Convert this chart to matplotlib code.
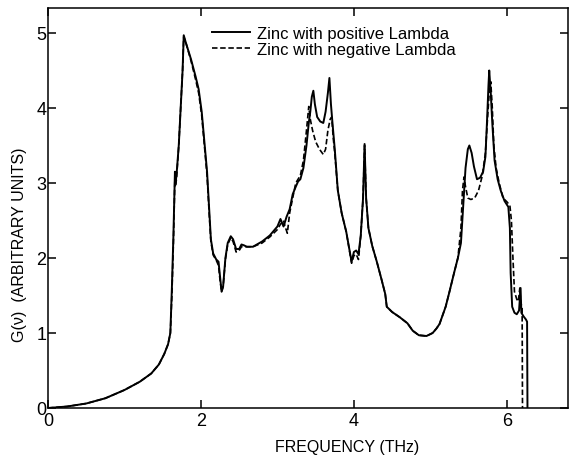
import matplotlib
matplotlib.use("Agg")
import matplotlib.pyplot as plt

plt.rcParams['font.family'] = ['Liberation Sans', 'DejaVu Sans']

# Frequency (THz) and G(nu)
freq_pos = [0, 0.25, 0.5, 0.75, 1.0, 1.2, 1.35, 1.45, 1.52, 1.57, 1.6,
            1.62, 1.64, 1.655, 1.66, 1.665, 1.68, 1.71, 1.74, 1.76, 1.775,
            1.8, 1.87, 1.93, 1.97, 2.01, 2.05, 2.08, 2.11, 2.13, 2.16, 2.2,
            2.23, 2.25, 2.27, 2.29, 2.32, 2.35, 2.39, 2.42, 2.46, 2.5, 2.53,
            2.56, 2.6, 2.68, 2.8, 2.9, 3.0, 3.04, 3.08, 3.12, 3.16, 3.2, 3.24,
            3.27, 3.3, 3.34, 3.38, 3.41, 3.43, 3.45, 3.47, 3.49, 3.52, 3.56,
            3.6, 3.63, 3.66, 3.68, 3.7, 3.72, 3.75, 3.79, 3.84, 3.9, 3.97,
            4.0, 4.03, 4.06, 4.09, 4.12, 4.14, 4.16, 4.19, 4.24, 4.3, 4.36,
            4.41, 4.43, 4.5, 4.6, 4.7, 4.77, 4.85, 4.95, 5.03, 5.08, 5.12,
            5.2, 5.25, 5.31, 5.36, 5.4, 5.43, 5.46, 5.49, 5.51, 5.54, 5.57,
            5.61, 5.65, 5.69, 5.72, 5.74, 5.76, 5.77, 5.79, 5.81, 5.84, 5.88,
            5.92, 5.97, 6.02, 6.04, 6.05, 6.07, 6.1, 6.13, 6.16, 6.18, 6.19,
            6.22, 6.25, 6.265, 6.27]
g_pos = [0, 0.02, 0.06, 0.13, 0.24, 0.35, 0.46, 0.58, 0.72, 0.85, 1.0,
         1.6, 2.3, 2.95, 3.15, 2.98, 3.1, 3.5, 4.1, 4.5, 4.97,
         4.88, 4.65, 4.42, 4.25, 3.95, 3.5, 3.15, 2.6, 2.25, 2.06, 1.98,
         1.95, 1.75, 1.55, 1.62, 2.0, 2.2, 2.29, 2.25, 2.12, 2.12, 2.18,
         2.17, 2.15, 2.15, 2.22, 2.3, 2.42, 2.52, 2.42, 2.55, 2.65, 2.85, 2.95,
         3.02, 3.05, 3.2, 3.5, 3.8, 3.95, 4.15, 4.23, 4.05, 3.88, 3.82,
         3.8, 3.95, 4.2, 4.4, 4.05, 3.8, 3.45, 2.9, 2.6, 2.35, 1.95,
         2.08, 2.1, 2.05, 2.3, 2.8, 3.52, 2.8, 2.4, 2.16, 1.95, 1.72,
         1.52, 1.35, 1.28, 1.21, 1.13, 1.03, 0.97, 0.96, 1.0, 1.06, 1.12,
         1.35, 1.55, 1.8, 2.0, 2.2, 2.7, 3.2, 3.45, 3.5, 3.4, 3.22,
         3.05, 3.07, 3.15, 3.35, 3.8, 4.3, 4.5, 4.2, 3.8, 3.3, 3.05,
         2.9, 2.76, 2.68, 2.4, 1.8, 1.35, 1.27, 1.25, 1.3, 1.6, 1.27,
         1.22, 1.18, 1.15, 0.0]

freq_neg = [0, 0.25, 0.5, 0.75, 1.0, 1.2, 1.35, 1.45, 1.52, 1.57, 1.6,
            1.62, 1.64, 1.655, 1.66, 1.665, 1.68, 1.71, 1.74, 1.76, 1.775,
            1.8, 1.87, 1.93, 1.97, 2.01, 2.05, 2.08, 2.11, 2.13, 2.16, 2.2,
            2.23, 2.25, 2.27, 2.29, 2.32, 2.35, 2.39, 2.42, 2.46, 2.5, 2.53,
            2.56, 2.6, 2.68, 2.8, 2.9, 3.0, 3.04, 3.08, 3.1, 3.13, 3.16, 3.2,
            3.24, 3.27, 3.3, 3.34, 3.38, 3.41, 3.43, 3.46, 3.5, 3.55, 3.6,
            3.63, 3.66, 3.69, 3.71, 3.73, 3.75, 3.79, 3.84, 3.9, 3.97, 4.0,
            4.03, 4.06, 4.09, 4.12, 4.14, 4.16, 4.19, 4.24, 4.3, 4.36, 4.41,
            4.43, 4.5, 4.6, 4.7, 4.77, 4.85, 4.95, 5.03, 5.08, 5.12, 5.2,
            5.25, 5.31, 5.36, 5.4, 5.42, 5.44, 5.46, 5.49, 5.53, 5.58, 5.63,
            5.68, 5.72, 5.75, 5.77, 5.79, 5.81, 5.83, 5.86, 5.9, 5.95, 6.0,
            6.04, 6.06, 6.08, 6.1, 6.13, 6.15, 6.17, 6.18, 6.2, 6.205]
g_neg = [0, 0.02, 0.06, 0.13, 0.24, 0.35, 0.46, 0.58, 0.72, 0.85, 1.0,
         1.5, 2.2, 2.9, 3.1, 2.95, 3.05, 3.5, 4.1, 4.5, 4.95,
         4.88, 4.63, 4.38, 4.2, 3.9, 3.45, 3.1, 2.55, 2.22, 2.04, 1.97,
         1.9, 1.7, 1.55, 1.62, 1.98, 2.18, 2.27, 2.22, 2.08, 2.1, 2.15,
         2.15, 2.15, 2.15, 2.2, 2.28, 2.38, 2.45, 2.5, 2.42, 2.33, 2.6, 2.8,
         3.0, 3.05, 3.1, 3.3, 3.7, 4.02, 3.85, 3.7, 3.55, 3.45, 3.38,
         3.45, 3.7, 3.85, 3.88, 3.6, 3.4, 2.9, 2.6, 2.35, 1.93, 2.03,
         2.05, 1.98, 2.3, 2.8, 3.5, 2.8, 2.4, 2.16, 1.95, 1.72, 1.52,
         1.35, 1.28, 1.21, 1.13, 1.03, 0.97, 0.96, 1.0, 1.06, 1.12, 1.35,
         1.55, 1.8, 2.0, 2.4, 2.9, 3.08, 2.95, 2.8, 2.78, 2.8, 2.9,
         3.1, 3.4, 3.9, 4.2, 4.35, 4.0, 3.5, 3.2, 3.0, 2.8, 2.75,
         2.7, 2.5, 2.0, 1.55, 1.45, 1.42, 1.6, 1.4, 1.35, 0.0]

fig = plt.figure(figsize=(5.69, 4.56), dpi=100)
ax = fig.add_axes([48 / 569, 47 / 456, 520 / 569, 400 / 456])

ax.plot(freq_pos, g_pos, color='black', lw=1.4, label='Zinc with positive Lambda')
ax.plot(freq_neg, g_neg, color='black', lw=1.2, dashes=(3.3, 1.6),
        label='Zinc with negative Lambda')

ax.set_xlim(0, 6.8)
ax.set_ylim(0, 5.333)
ax.set_xticks([0, 2, 4, 6])
ax.set_yticks([0, 1, 2, 3, 4, 5])
ax.tick_params(direction='in', length=6, width=1.1, labelsize=13,
               top=True, right=True)
ax.tick_params(axis='y', pad=1)
ax.tick_params(axis='x', pad=3)
for sp in ax.spines.values():
    sp.set_linewidth(1.1)

ax.set_xlabel('FREQUENCY (THz)', fontsize=11.5)
ax.set_ylabel('G(ν)  (ARBITRARY UNITS)', fontsize=11.5)
ax.xaxis.set_label_coords(0.576, -0.077)
ax.yaxis.set_label_coords(-0.04, 0.41)

ax.legend(loc='upper left', bbox_to_anchor=(0.315, 0.955), frameon=False,
          fontsize=12, handlelength=2.3, handletextpad=0.4,
          labelspacing=0.05, borderpad=0, borderaxespad=0)

fig.savefig('out.png', dpi=100)
